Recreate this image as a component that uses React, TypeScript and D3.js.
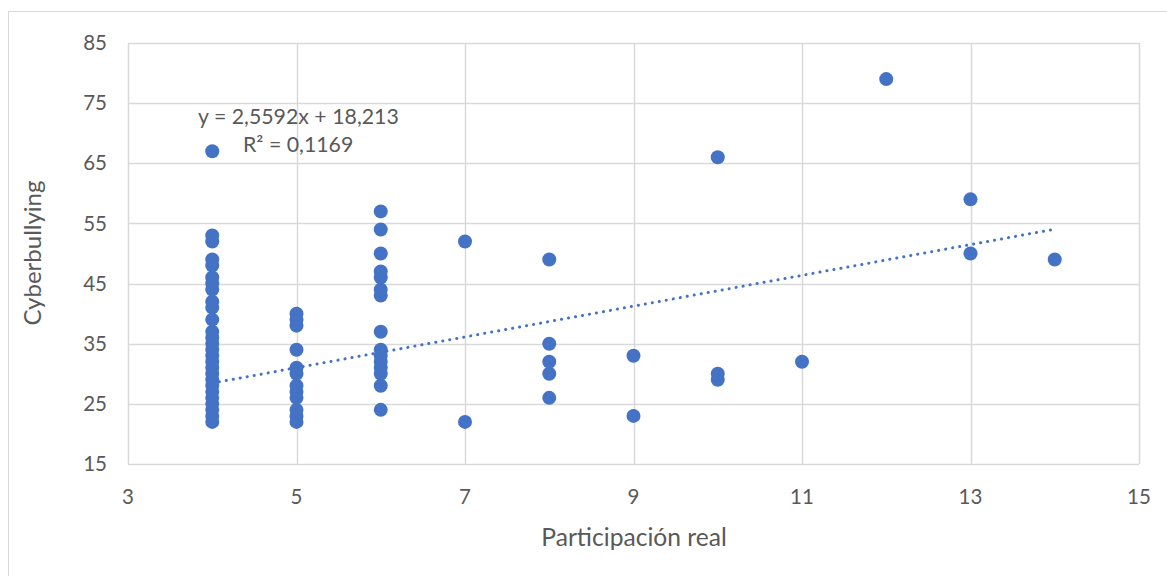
import React from "react";
import * as d3 from "d3";

const xTicks = [3, 5, 7, 9, 11, 13, 15];
const yTicks = [15, 25, 35, 45, 55, 65, 75, 85];

const participacion = [
  4, 4, 4, 4, 4, 4, 4, 4, 4, 4, 4, 4, 4, 4, 4, 4, 4, 4, 4, 4, 4, 4, 4, 4, 4, 4, 4,
  5, 5, 5, 5, 5, 5, 5, 5, 5, 5, 5, 5,
  6, 6, 6, 6, 6, 6, 6, 6, 6, 6, 6, 6, 6, 6, 6,
  7, 7,
  8, 8, 8, 8, 8,
  9, 9,
  10, 10, 10,
  11,
  12,
  13, 13,
  14,
];
const cyberbullying = [
  22, 23, 24, 25, 26, 27, 28, 29, 30, 31, 32, 33, 34, 35, 36, 37, 39, 41, 42, 44, 45, 46, 48, 49, 52, 53, 67,
  22, 23, 24, 26, 27, 28, 30, 31, 34, 38, 39, 40,
  24, 28, 30, 31, 32, 33, 34, 37, 43, 44, 46, 47, 50, 54, 57,
  22, 52,
  26, 30, 32, 35, 49,
  23, 33,
  29, 30, 66,
  32,
  79,
  50, 59,
  49,
];
const slope = 2.5592;
const intercept = 18.213;
const trendRange = [4, 14];
const equationText = "y = 2,5592x + 18,213";
const r2Text = "R² = 0,1169";

export default function App() {
  const W = 1167;
  const H = 576;
  const left = 128;
  const right = 1139;
  const top = 43;
  const bottom = 464;
  const x = d3.scaleLinear().domain([3, 15]).range([left, right]);
  const y = d3.scaleLinear().domain([15, 85]).range([bottom, top]);
  const font = "Lato, 'Open Sans', sans-serif";
  const textColor = "#595959";
  const blue = "#4472C4";
  const pts = participacion.map((p, i) => [p, cyberbullying[i]]);
  const line = d3.line<number>().x((d) => x(d)).y((d) => y(slope * d + intercept));

  return (
    <svg
      width={W}
      height={H}
      style={{ position: "absolute", left: 0, top: 0, background: "#fff" }}
      fontFamily={font}
    >
      <rect x={8.5} y={11.5} width={1170} height={580} fill="#fff" stroke="#d9d9d9" strokeWidth={1} />
      {yTicks.map((t) => (
        <line key={"gy" + t} x1={left} x2={right} y1={Math.round(y(t)) + 0.5} y2={Math.round(y(t)) + 0.5} stroke="#d9d9d9" strokeWidth={1.5} />
      ))}
      {xTicks.map((t) => (
        <line key={"gx" + t} x1={Math.round(x(t)) + 0.5} x2={Math.round(x(t)) + 0.5} y1={top} y2={bottom} stroke="#d9d9d9" strokeWidth={1.5} />
      ))}
      {yTicks.map((t) => (
        <text key={"ty" + t} x={107} y={y(t)} dy="0.35em" textAnchor="end" fontSize={20.5} fill={textColor}>
          {t}
        </text>
      ))}
      {xTicks.map((t) => (
        <text key={"tx" + t} x={x(t)} y={497} dy="0.35em" textAnchor="middle" fontSize={20.5} fill={textColor}>
          {t}
        </text>
      ))}
      {pts.map((d, i) => (
        <circle key={i} cx={x(d[0])} cy={y(d[1])} r={7} fill={blue} />
      ))}
      <path
        d={line(trendRange) || ""}
        fill="none"
        stroke={blue}
        strokeWidth={3}
        strokeDasharray="0.1 7"
        strokeLinecap="round"
      />
      <text x={198} y={117} dy="0.35em" fontSize={21.3} fill={textColor}>
        {equationText}
      </text>
      <text x={243} y={145} dy="0.35em" fontSize={21.3} fill={textColor}>
        {r2Text}
      </text>
      <text x={634} y={537} dy="0.35em" textAnchor="middle" fontSize={24.6} fill={textColor}>
        Participación real
      </text>
      <text
        transform={`translate(33,253) rotate(-90)`}
        dy="0.35em"
        textAnchor="middle"
        fontSize={24}
        fill={textColor}
      >
        Cyberbullying
      </text>
    </svg>
  );
}
